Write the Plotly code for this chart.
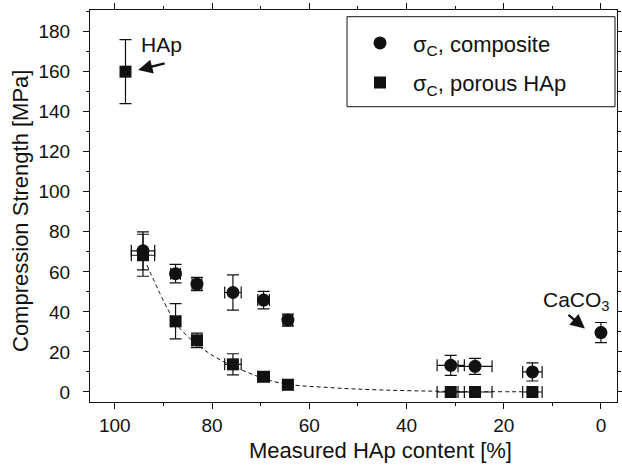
import plotly.graph_objects as go

# Composite (circles)
x_comp = [94.2, 87.5, 83.1, 75.7, 69.4, 64.4, 30.9, 25.9, 14.1, 0.0]
y_comp = [70.5, 59.1, 53.9, 49.7, 45.9, 35.9, 13.3, 12.8, 10.0, 29.7]
yerr_comp = [9.5, 4.6, 3.3, 8.8, 4.4, 3.0, 5.0, 4.0, 4.5, 5.0]
xerr_comp = [2.4, 1.0, 1.0, 1.7, 1.2, 1.0, 2.8, 3.5, 2.0, 0.0]

# Porous HAp (squares)
x_por = [97.8, 94.2, 87.5, 83.1, 75.7, 69.4, 64.4, 30.9, 25.9, 14.1]
y_por = [160.0, 68.3, 35.3, 25.8, 13.8, 7.6, 3.6, 0.0, 0.0, 0.0]
yerr_por = [16.0, 10.5, 8.8, 3.6, 5.3, 1.5, 1.2, 0.0, 0.0, 0.0]
xerr_por = [0.0, 2.4, 1.0, 1.0, 1.7, 1.2, 1.0, 2.8, 3.5, 2.0]

# Dashed fit curve
fit_x = [93.4, 89.0, 86.6, 80.5, 72.9, 66.0, 55.8, 45.0, 31.0, 14.0]
fit_y = [63.4, 40.9, 31.7, 19.2, 10.0, 4.5, 2.2, 1.0, 0.3, 0.1]

x_title = "Measured HAp content [%]"
y_title = "Compression Strength [MPa]"

FONT = "Liberation Sans, Arial, Helvetica, sans-serif"
BLACK = "#111111"

fig = go.Figure()

fig.add_trace(go.Scatter(
    x=fit_x, y=fit_y, mode="lines", line=dict(color=BLACK, width=1, dash="4px,3px", shape="spline"),
    showlegend=False, hoverinfo="skip"))

err_style = dict(type="data", color=BLACK, thickness=1.2, width=6)

fig.add_trace(go.Scatter(
    x=x_comp, y=y_comp, mode="markers", name="σ<sub>C</sub>, composite",
    marker=dict(symbol="circle", size=13, color=BLACK, line=dict(width=0)),
    error_y=dict(array=yerr_comp, **err_style),
    error_x=dict(array=xerr_comp, **err_style),
    legendgroup="a"))

fig.add_trace(go.Scatter(
    x=x_por, y=y_por, mode="markers", name="σ<sub>C</sub>, porous HAp",
    marker=dict(symbol="square", size=12, color=BLACK, line=dict(width=0)),
    error_y=dict(array=yerr_por, **err_style),
    error_x=dict(array=xerr_por, **err_style),
    legendgroup="b"))

axis_common = dict(
    showline=True, linecolor=BLACK, linewidth=1.2, mirror="ticks",
    ticks="outside", ticklen=6, tickwidth=1.2, tickcolor=BLACK,
    showgrid=False, zeroline=False, automargin=False,
    tickfont=dict(size=19, color=BLACK, family=FONT),
)

fig.update_xaxes(
    range=[105.1, -3.3], tick0=0, dtick=20,
    minor=dict(ticks="outside", ticklen=3, tickwidth=1.2, tickcolor=BLACK, dtick=10, showgrid=False),
    ticklabelstandoff=0,
    **axis_common)

fig.update_yaxes(
    range=[-5, 190.8], tick0=0, dtick=20,
    minor=dict(ticks="outside", ticklen=3, tickwidth=1.2, tickcolor=BLACK, dtick=10, showgrid=False),
    ticklabelstandoff=9,
    **axis_common)

# Axis titles as paper-positioned text
fig.add_annotation(xref="paper", yref="paper", x=0.5503, y=-0.1235, text=x_title, showarrow=False,
                   xanchor="center", yanchor="middle", font=dict(size=22, color=BLACK, family=FONT))
fig.add_annotation(xref="paper", yref="paper", x=-0.133, y=0.487, text=y_title, showarrow=False,
                   textangle=-90, xanchor="center", yanchor="middle",
                   font=dict(size=22, color=BLACK, family=FONT))

# Labels and arrows
fig.add_annotation(x=90.3, y=173.4, text="HAp", showarrow=False,
                   xanchor="center", yanchor="middle", font=dict(size=21, color=BLACK, family=FONT))
fig.add_annotation(x=95.2, y=160.8, ax=28, ay=-7, text="", showarrow=True,
                   arrowhead=2, arrowsize=1.3, arrowwidth=2.2, arrowcolor=BLACK)
fig.add_annotation(x=5.1, y=45.4, text="CaCO<sub>3</sub>", showarrow=False,
                   xanchor="center", yanchor="middle", font=dict(size=21, color=BLACK, family=FONT))
fig.add_annotation(x=3.3, y=31.7, ax=-18, ay=-15, text="", showarrow=True,
                   arrowhead=2, arrowsize=1.3, arrowwidth=2.2, arrowcolor=BLACK)

# Legend frame
fig.add_shape(type="rect", xref="paper", yref="paper",
              x0=0.4877, x1=0.9962, y0=0.7533, y1=0.9829,
              line=dict(color=BLACK, width=1), fillcolor="rgba(0,0,0,0)", layer="above")

fig.update_layout(
    width=622, height=465,
    margin=dict(l=90, r=5, t=10, b=63),
    paper_bgcolor="white", plot_bgcolor="white",
    font=dict(family=FONT, color=BLACK),
    legend=dict(
        x=0.4877, y=0.969, xanchor="left", yanchor="top",
        borderwidth=0, bgcolor="rgba(0,0,0,0)",
        font=dict(size=22, color=BLACK, family=FONT),
        itemwidth=56, tracegroupgap=8, traceorder="grouped",
    ),
)

fig.write_html("out.html")
